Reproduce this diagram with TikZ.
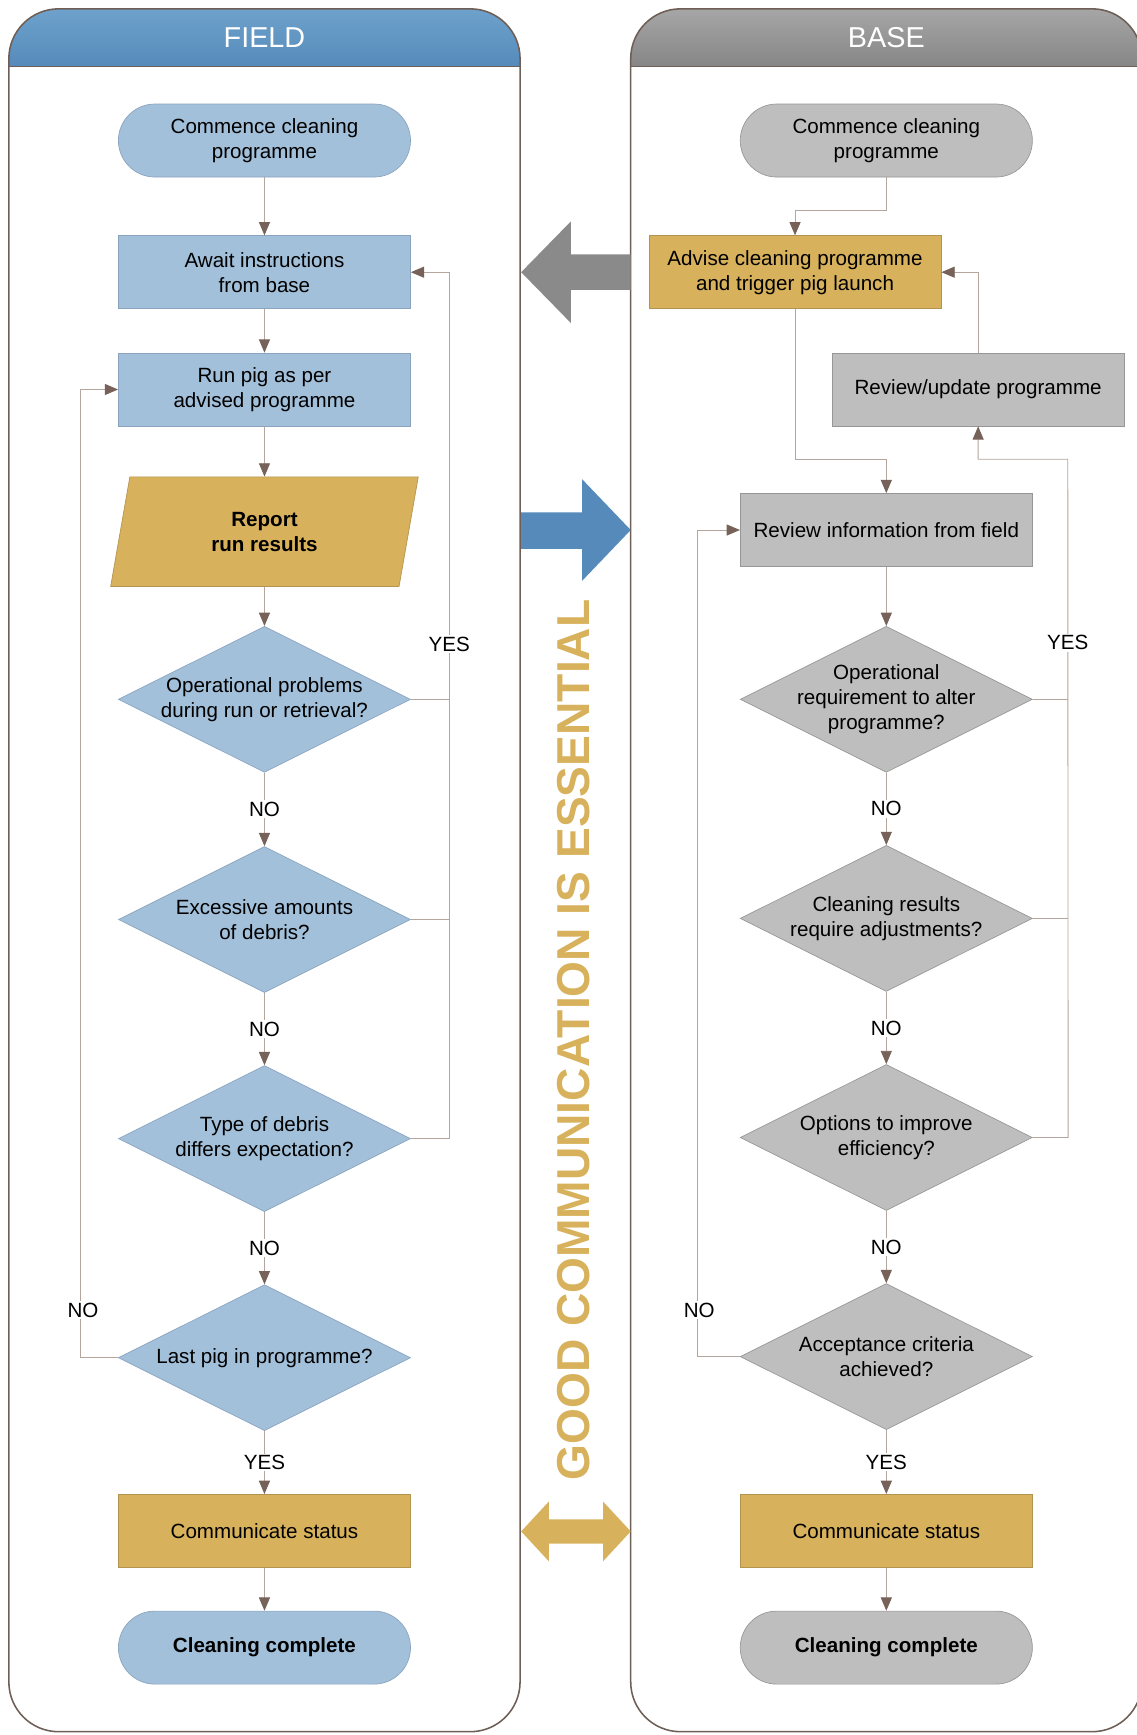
\documentclass[tikz,border=0pt]{standalone}
\usepackage{fontspec}
\setmainfont{Liberation Sans}
\usetikzlibrary{arrows.meta,shapes.geometric}
\definecolor{fieldblue}{RGB}{162,192,218}
\definecolor{fieldline}{RGB}{138,163,190}
\definecolor{fieldtop}{RGB}{110,162,204}
\definecolor{fieldbot}{RGB}{86,138,186}
\definecolor{fieldarrow}{RGB}{85,138,187}
\definecolor{basegray}{RGB}{190,190,190}
\definecolor{graybord}{RGB}{150,150,150}
\definecolor{basetop}{RGB}{166,166,166}
\definecolor{basebot}{RGB}{134,134,134}
\definecolor{arrowgray}{RGB}{138,138,138}
\definecolor{commgold}{RGB}{215,177,91}
\definecolor{goldline}{RGB}{178,147,80}
\definecolor{lanec}{RGB}{110,94,85}
\definecolor{linec}{RGB}{180,165,157}
\definecolor{tipc}{RGB}{118,98,88}

\begin{document}
\begin{tikzpicture}[x=1pt,y=1pt,yscale=-1,
		txt/.style={font=\fontsize{18.6}{22.6}\selectfont,align=center},
		bold/.style={font=\fontsize{18.6}{22.6}\selectfont\bfseries,align=center},
		blk/.style={rectangle,minimum width=264pt,minimum height=66pt,inner sep=0pt,line width=0.6pt,txt},
		bluefill/.style={fill=fieldblue,draw=fieldline},
		grayfill/.style={fill=basegray,draw=graybord},
		goldfill/.style={fill=commgold,draw=goldline},
		term/.style={blk,rounded corners=33pt},
		dia/.style={diamond,minimum width=264pt,minimum height=132pt,inner sep=0pt,line width=0.6pt},
		conn/.style={draw=linec,line width=0.8pt,-{Triangle[length=12pt,width=10pt,color=tipc]}},
		wire/.style={draw=linec,line width=0.8pt},
		yn/.style={txt,fill=white,inner sep=1.5pt},
		lane/.style={draw=lanec,line width=1.4pt,rounded corners=45pt},
		head/.style={text=white,font=\fontsize{26}{30}\selectfont}]
		\useasboundingbox (0,0) rectangle (1027,1568);
		\begin{scope}
			\clip[rounded corners=45pt] (8,8) rectangle (470,1565);
			\shade[top color=fieldtop,bottom color=fieldbot] (8,8) rectangle (470,60);
		\end{scope}
		\begin{scope}
			\clip[rounded corners=45pt] (570,8) rectangle (1032,1565);
			\shade[top color=basetop,bottom color=basebot] (570,8) rectangle (1032,60);
		\end{scope}
		\draw[lane] (8,8) rectangle (470,1565);
		\draw[lane] (570,8) rectangle (1032,1565);
		\draw[draw=lanec,line width=1.4pt] (8,60) -- (470,60) (570,60) -- (1032,60);
		\node[head] (fieldhd) at (239,34) {FIELD};
		\node[head] (basehd) at (801,34) {BASE};
		\fill[arrowgray] (471,246) -- (516,200) -- (516,230) -- (570,230) -- (570,262) -- (516,262) -- (516,292) -- cycle;
		\fill[fieldarrow] (570,479) -- (526,433) -- (526,463) -- (471,463) -- (471,496) -- (526,496) -- (526,525) -- cycle;
		\fill[commgold] (471,1384) -- (496,1357) -- (496,1373) -- (545,1373) -- (545,1357) -- (570,1384) -- (545,1411) -- (545,1395) -- (496,1395) -- (496,1411) -- cycle;
		\node[rotate=90,text=commgold,font=\fontsize{41.7}{44}\selectfont\bfseries] (motto) at (518,940) {GOOD COMMUNICATION IS ESSENTIAL};
		\node[term,bluefill] (lstart) at (239,127) {Commence cleaning\\programme};
		\node[blk,bluefill] (lawait) at (239,246) {Await instructions\\from base};
		\node[blk,bluefill] (lrun) at (239,352) {Run pig as per\\advised programme};
		\node[trapezium,trapezium left angle=64,trapezium right angle=116,trapezium stretches body,minimum width=278pt,minimum height=99pt,inner sep=0pt,line width=0.6pt,goldfill,bold] (lreport) at (239,480.5) {Report\\run results};
		\node[dia,bluefill,label={[txt]center:Operational problems\\during run or retrieval?}] (lq1) at (239,632) {};
		\node[dia,bluefill,label={[txt]center:Excessive amounts\\of debris?}] (lq2) at (239,831) {};
		\node[dia,bluefill,label={[txt]center:Type of debris\\differs expectation?}] (lq3) at (239,1029) {};
		\node[dia,bluefill,label={[txt]center:Last pig in programme?}] (lq4) at (239,1227) {};
		\node[blk,goldfill] (lcomm) at (239,1383.5) {Communicate status};
		\node[term,bluefill,bold] (lend) at (239,1489) {Cleaning complete};
		\node[term,grayfill] (rstart) at (801,127) {Commence cleaning\\programme};
		\node[blk,goldfill] (radvise) at (718.5,246) {Advise cleaning programme\\and trigger pig launch};
		\node[blk,grayfill] (rupdate) at (884,352) {Review/update programme};
		\node[blk,grayfill] (rinfo) at (801,479) {Review information from field};
		\node[dia,grayfill,label={[txt]center:Operational\\requirement to alter\\programme?}] (rq1) at (801,632) {};
		\node[dia,grayfill,label={[txt]center:Cleaning results\\require adjustments?}] (rq2) at (801,830) {};
		\node[dia,grayfill,label={[txt]center:Options to improve\\efficiency?}] (rq3) at (801,1028) {};
		\node[dia,grayfill,label={[txt]center:Acceptance criteria\\achieved?}] (rq4) at (801,1226) {};
		\node[blk,goldfill] (rcomm) at (801,1383.5) {Communicate status};
		\node[term,grayfill,bold] (rend) at (801,1489) {Cleaning complete};
		\draw[conn] (lstart) -- (lawait);
		\draw[conn] (lawait) -- (lrun);
		\draw[conn] (lrun) -- (lreport);
		\draw[conn] (lreport) -- (lq1);
		\draw[conn] (lq1) -- node[yn] {NO} (lq2);
		\draw[conn] (lq2) -- node[yn] {NO} (lq3);
		\draw[conn] (lq3) -- node[yn] {NO} (lq4);
		\draw[conn] (lq4) -- node[yn] {YES} (lcomm);
		\draw[conn] (lcomm) -- (lend);
		\draw[wire] (lq1.east) -- ++(35,0);
		\draw[wire] (lq2.east) -- ++(35,0);
		\draw[conn] (lq3.east) -- ++(35,0) |- (lawait.east);
		\node[yn] (lyes) at (406,582) {YES};
		\draw[conn] (lq4.west) -- ++(-34,0) |- (lrun.west);
		\node[yn] (lno) at (75,1184) {NO};
		\draw[conn] (rstart.south) -- ++(0,30) -| (radvise.north);
		\draw[conn] (rupdate.north) |- (radvise.east);
		\draw[conn] (radvise.south) -- ++(0,136) -| (rinfo.north);
		\draw[conn] (rinfo) -- (rq1);
		\draw[conn] (rq1) -- node[yn] {NO} (rq2);
		\draw[conn] (rq2) -- node[yn] {NO} (rq3);
		\draw[conn] (rq3) -- node[yn] {NO} (rq4);
		\draw[conn] (rq4) -- node[yn] {YES} (rcomm);
		\draw[conn] (rcomm) -- (rend);
		\draw[wire] (rq1.east) -- ++(32,0);
		\draw[wire] (rq2.east) -- ++(32,0);
		\draw[conn] (rq3.east) -- ++(32,0) -- (965,415) -| (rupdate.south);
		\node[yn] (ryes) at (965,581) {YES};
		\draw[conn] (rq4.west) -- ++(-38,0) |- (rinfo.west);
		\node[yn] (rno) at (632,1184) {NO};
\end{tikzpicture}
\end{document}
